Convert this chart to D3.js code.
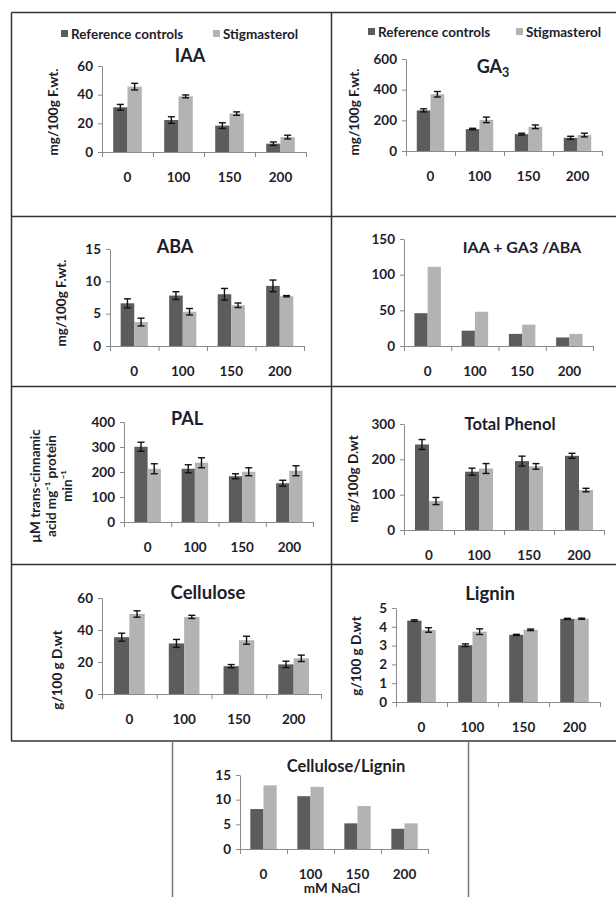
<!DOCTYPE html>
<html>
<head>
<meta charset="utf-8">
<script src="https://cdn.jsdelivr.net/npm/d3@7"></script>
<style>
  body { margin: 0; background: #fff; }
  svg text { font-family: Lato, "Open Sans", sans-serif; font-weight: bold; fill: #1d1d2b; }
</style>
</head>
<body>
<div id="chart"></div>
<script>
// data
const categories = ["0", "100", "150", "200"];
const series = ["Reference controls", "Stigmasterol"];

const iaaRef = [31.2, 22.3, 18.4, 5.8];
const iaaStig = [45.6, 38.8, 26.8, 10.4];
const iaaRefErr = [2, 2.3, 2, 1.2];
const iaaStigErr = [2.3, 1, 1.2, 1.3];

const ga3Ref = [265, 143, 110, 86];
const ga3Stig = [370, 203, 158, 104];
const ga3RefErr = [10, 5, 6, 10];
const ga3StigErr = [18, 18, 12, 12];

const abaRef = [6.6, 7.8, 8.0, 9.3];
const abaStig = [3.7, 5.3, 6.3, 7.7];
const abaRefErr = [0.7, 0.6, 0.9, 0.9];
const abaStigErr = [0.6, 0.5, 0.35, 0.1];

const ratioRef = [46, 21.5, 17, 12];
const ratioStig = [111, 48, 30, 17];

const palRef = [301, 213, 183, 155];
const palStig = [213, 237, 201, 205];
const palRefErr = [18, 16, 10, 12];
const palStigErr = [20, 20, 16, 20];

const phenolRef = [242, 165, 195, 210];
const phenolStig = [82, 174, 180, 113];
const phenolRefErr = [14, 10, 14, 7];
const phenolStigErr = [10, 14, 8, 5];

const celRef = [35.5, 31.6, 17.4, 18.5];
const celStig = [50, 48.2, 33.6, 22.3];
const celRefErr = [2.5, 2.5, 1, 2];
const celStigErr = [2, 1, 2.5, 2];

const ligRef = [4.33, 3.02, 3.57, 4.42];
const ligStig = [3.83, 3.74, 3.84, 4.43];
const ligRefErr = [0.04, 0.07, 0.03, 0.03];
const ligStigErr = [0.12, 0.15, 0.04, 0.03];

const clRef = [8.1, 10.7, 5.2, 4.1];
const clStig = [12.9, 12.6, 8.7, 5.2];

const colors = ["#5c5c5c", "#b3b3b3"];

const W = 616, H = 897;
const svg = d3.select("#chart").append("svg")
    .attr("width", W)
    .attr("height", H);

// frame of the figure grid
const frame = svg.append("g")
    .attr("fill", "none")
    .attr("stroke", "#333")
    .attr("stroke-width", 1.5);
frame.append("path").attr("d", "M11.5,12.5H616 M11.5,12.5V741 M11,741H616 M331.5,12.5V741 M11,216.5H616 M11,386.5H616 M11,564.5H616");
frame.append("path").attr("d", "M172.5,741V897 M468.5,741V897").attr("stroke", "#777");

const panels = [
    { title: "IAA", ref: iaaRef, stig: iaaStig, refErr: iaaRefErr, stigErr: iaaStigErr,
      x0: 102, x1: 306, top: 66, bottom: 152, max: 60, step: 20, tx: 190, ty: 62, ts: 18,
      ylabel: ["mg/100g F.wt."], lx: 53, ly: 112, legend: { y: 34, x: [61, 213] } },
    { title: "GA", sub: "3", ref: ga3Ref, stig: ga3Stig, refErr: ga3RefErr, stigErr: ga3StigErr,
      x0: 406, x1: 602, top: 59, bottom: 151, max: 600, step: 200, tx: 493, ty: 73, ts: 18,
      ylabel: ["mg/100g F.wt."], lx: 354, ly: 112, legend: { y: 32, x: [368, 516] } },
    { title: "ABA", ref: abaRef, stig: abaStig, refErr: abaRefErr, stigErr: abaStigErr,
      x0: 110, x1: 304, top: 249, bottom: 346, max: 15, step: 5, tx: 175, ty: 253, ts: 18,
      ylabel: ["mg/100g F.wt."], lx: 61, ly: 303 },
    { title: "IAA + GA3 /ABA", ref: ratioRef, stig: ratioStig,
      x0: 404, x1: 593, top: 239, bottom: 346, max: 150, step: 50, tx: 522, ty: 253, ts: 16 },
    { title: "PAL", ref: palRef, stig: palStig, refErr: palRefErr, stigErr: palStigErr,
      x0: 124, x1: 313, top: 422, bottom: 522, max: 400, step: 100, tx: 187, ty: 425, ts: 18,
      ylabel: ["\u00b5M trans-cinnamic", "acid mg\u207b\u00b9 protein", "min\u207b\u00b9"], lx: 51, ly: 486 },
    { title: "Total Phenol", ref: phenolRef, stig: phenolStig, refErr: phenolRefErr, stigErr: phenolStigErr,
      x0: 404, x1: 604, top: 424, bottom: 530, max: 300, step: 100, tx: 510, ty: 430, ts: 16.5,
      ylabel: ["mg/100g D.wt"], lx: 353, ly: 479 },
    { title: "Cellulose", ref: celRef, stig: celStig, refErr: celRefErr, stigErr: celStigErr,
      x0: 102, x1: 321, top: 598, bottom: 694, max: 60, step: 20, tx: 208, ty: 599, ts: 18.5,
      ylabel: ["g/100 g D.wt"], lx: 57, ly: 670 },
    { title: "Lignin", ref: ligRef, stig: ligStig, refErr: ligRefErr, stigErr: ligStigErr,
      x0: 396, x1: 600, top: 608, bottom: 702, max: 5, step: 1, tx: 490, ty: 600, ts: 18.5,
      ylabel: ["g/100 g D.wt"], lx: 356, ly: 656 },
    { title: "Cellulose/Lignin", ref: clRef, stig: clStig,
      x0: 240, x1: 428, top: 775, bottom: 849, max: 15, step: 5, tx: 346, ty: 772, ts: 16.5,
      xlabel: "mM NaCl" }
];

panels.forEach(p => {
    const g = svg.append("g");

    const x = d3.scaleBand().domain(categories).range([p.x0, p.x1]);
    const bw = x.bandwidth();
    const xs = d3.scaleBand().domain(series).range([bw * 0.22, bw * 0.78]);
    const xb = d3.scaleLinear().domain([0, categories.length]).range([p.x0, p.x1]);
    const y = d3.scaleLinear().domain([0, p.max]).range([p.bottom, p.top]);

    const rows = categories.map((c, i) => ({
        cat: c,
        vals: [
            { s: series[0], v: p.ref[i], e: p.refErr ? p.refErr[i] : null },
            { s: series[1], v: p.stig[i], e: p.stigErr ? p.stigErr[i] : null }
        ]
    }));

    // bars
    const grp = g.selectAll(".grp")
        .data(rows)
        .enter().append("g")
        .attr("transform", d => `translate(${x(d.cat)},0)`);

    grp.selectAll("rect")
        .data(d => d.vals)
        .enter().append("rect")
        .attr("x", d => xs(d.s))
        .attr("width", xs.bandwidth())
        .attr("y", d => y(d.v))
        .attr("height", d => y(0) - y(d.v))
        .attr("fill", (d, i) => colors[i]);

    // error bars
    const eb = grp.selectAll(".err")
        .data(d => d.vals.filter(v => v.e != null))
        .enter().append("g")
        .attr("stroke", "#111")
        .attr("stroke-width", 1.4);
    const cx = d => xs(d.s) + xs.bandwidth() / 2;
    eb.append("line")
        .attr("x1", cx).attr("x2", cx)
        .attr("y1", d => y(d.v - d.e)).attr("y2", d => y(d.v + d.e));
    eb.append("line")
        .attr("x1", d => cx(d) - 3.5).attr("x2", d => cx(d) + 3.5)
        .attr("y1", d => y(d.v + d.e)).attr("y2", d => y(d.v + d.e));
    eb.append("line")
        .attr("x1", d => cx(d) - 3.5).attr("x2", d => cx(d) + 3.5)
        .attr("y1", d => y(d.v - d.e)).attr("y2", d => y(d.v - d.e));

    // y axis
    const gy = g.append("g")
        .attr("transform", `translate(${p.x0},0)`)
        .call(d3.axisLeft(y)
            .tickValues(d3.range(0, p.max + p.step / 2, p.step))
            .tickFormat(d3.format("~g"))
            .tickSize(4)
            .tickSizeOuter(0)
            .tickPadding(5));
    gy.selectAll("path, line").attr("stroke", "#8a8a8a");
    gy.selectAll("text").style("font-size", "13.5px").attr("fill", "#1d1d2b");

    // x axis: ticks at category boundaries, labels at centres
    const gx = g.append("g")
        .attr("transform", `translate(0,${p.bottom})`)
        .call(d3.axisBottom(xb)
            .tickValues(d3.range(0, categories.length + 1))
            .tickFormat("")
            .tickSize(5)
            .tickSizeOuter(0));
    gx.selectAll("path, line").attr("stroke", "#8a8a8a");

    const gl = g.append("g")
        .attr("transform", `translate(0,${p.bottom})`)
        .call(d3.axisBottom(x).tickSize(0).tickPadding(20));
    gl.select(".domain").remove();
    gl.selectAll("text").style("font-size", "13.5px").attr("fill", "#1d1d2b");

    // title
    const t = g.append("text")
        .attr("x", p.tx)
        .attr("y", p.ty)
        .attr("text-anchor", "middle")
        .style("font-size", p.ts + "px")
        .text(p.title);
    if (p.sub) {
        t.append("tspan")
            .attr("dy", 4)
            .style("font-size", (p.ts * 0.7) + "px")
            .text(p.sub);
    }

    // y label
    if (p.ylabel) {
        const n = p.ylabel.length;
        const yl = g.append("text")
            .attr("transform", `translate(${p.lx},${p.ly}) rotate(-90)`)
            .attr("text-anchor", "middle")
            .style("font-size", "13.5px");
        p.ylabel.forEach((line, i) => {
            yl.append("tspan")
                .attr("x", 0)
                .attr("y", (i - (n - 1) / 2) * 16)
                .attr("dy", "0.35em")
                .text(line);
        });
    }

    if (p.xlabel) {
        g.append("text")
            .attr("x", (p.x0 + p.x1) / 2 - 2)
            .attr("y", p.bottom + 44)
            .attr("text-anchor", "middle")
            .style("font-size", "13.5px")
            .text(p.xlabel);
    }

    // legend
    if (p.legend) {
        const lg = g.selectAll(".lg")
            .data(series)
            .enter().append("g")
            .attr("transform", (d, i) => `translate(${p.legend.x[i]},${p.legend.y})`);
        lg.append("rect")
            .attr("x", 0).attr("y", -4)
            .attr("width", 7).attr("height", 7)
            .attr("fill", (d, i) => colors[i]);
        lg.append("text")
            .attr("x", 10)
            .attr("y", 0)
            .attr("dy", "0.35em")
            .style("font-size", "13.5px")
            .text(d => d);
    }
});
</script>
</body>
</html>
